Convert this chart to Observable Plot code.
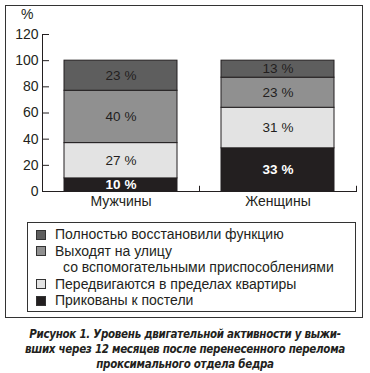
<!DOCTYPE html>
<html><head><meta charset="utf-8">
<script src="https://cdn.jsdelivr.net/npm/d3@7"></script>
<script src="https://cdn.jsdelivr.net/npm/@observablehq/plot@0.6"></script>
<style>
body{margin:0;background:#fff;font-family:"Liberation Sans",Arial,sans-serif;color:#231f20}
#frame{position:absolute;left:5px;top:5px;width:356px;height:311px;border:1.5px solid #333}
#chart{position:absolute;left:0;top:0}
#pct{position:absolute;left:21px;top:6px;font-size:14px}
#legend{position:absolute;left:27px;top:222px;width:329px;height:90px;border:1px solid #333;font-size:14px;line-height:16.5px;padding-top:3px;box-sizing:border-box}
.item{position:relative;padding-left:27px;white-space:nowrap}
.item .sw{position:absolute;left:8px;top:3.5px;width:8px;height:8px;border:1px solid #333}
.item .l2{padding-left:8px}
#caption{position:absolute;left:0;top:327px;width:370px;text-align:center;white-space:nowrap;font-family:"DejaVu Sans Condensed","Liberation Sans Narrow",sans-serif;font-weight:bold;font-style:italic;font-size:11.5px;letter-spacing:-0.3px;line-height:15px;color:#231f20}
</style></head>
<body>
<div id="frame"></div>
<div id="chart"></div>
<div id="pct">%</div>
<div id="legend"></div>
<div id="caption">Рисунок 1. Уровень двигательной активности у выжи-<br>вших через 12 месяцев после перенесенного перелома<br>проксимального отдела бедра</div>
<script>
const groups = ["Мужчины", "Женщины"];
// bottom to top
const categories = ["Прикованы к постели", "Передвигаются в пределах квартиры", "Выходят на улицу со вспомогательными приспособлениями", "Полностью восстановили функцию"];
const menValues = [10, 27, 40, 23];
const womenValues = [33, 31, 23, 13];
const colors = ["#231f20", "#e3e3e3", "#909090", "#5e5e5e"];
const yTicks = [0, 20, 40, 60, 80, 100, 120];

const data = [];
groups.forEach((g, gi) => {
  const vals = gi === 0 ? menValues : womenValues;
  categories.forEach((c, ci) => data.push({group: g, cat: c, ci, value: vals[ci]}));
});

const plot = Plot.plot({
  width: 370,
  height: 215,
  marginLeft: 42,
  marginRight: 14,
  marginTop: 34,
  marginBottom: 24,
  style: {fontFamily: "Liberation Sans, Arial, sans-serif", color: "#231f20", background: "transparent"},
  x: {domain: groups, padding: 0, label: null},
  y: {domain: [0, 120], label: null},
  color: {domain: categories, range: colors},
  marks: [
    Plot.barY(data, Plot.stackY({x: "group", y: "value", fill: "cat", stroke: "#231f20", strokeWidth: 1, insetLeft: 22, insetRight: 22})),
    Plot.text(data, Plot.stackY({x: "group", y: "value", text: d => d.ci > 0 ? d.value + " %" : "", fill: "#231f20", fontSize: 13.5})),
    Plot.text(data, Plot.stackY({x: "group", y: "value", text: d => d.ci === 0 ? d.value + " %" : "", fill: "#ffffff", fontSize: 13.5, fontWeight: "bold"})),
    Plot.axisY({ticks: yTicks, tickSize: 0, tickPadding: 4, fontSize: 14, label: null}),
    Plot.axisY({ticks: yTicks, tickSize: 7, dx: 7, tickFormat: () => "", label: null, stroke: "#231f20"}),
    Plot.axisX({tickSize: 0, tickPadding: 5, fontSize: 14, label: null}),
    Plot.ruleX(groups, {x: d => d, y1: 0, y2: 4, dx: 78.5, stroke: "#231f20"}),
    Plot.frame({anchor: "left", stroke: "#231f20"}),
    Plot.frame({anchor: "bottom", stroke: "#231f20"})
  ]
});
document.getElementById("chart").appendChild(plot);

// legend: top to bottom
const legend = document.getElementById("legend");
const legendOrder = [3, 2, 1, 0];
legendOrder.forEach(i => {
  const div = document.createElement("div");
  div.className = "item";
  const sw = document.createElement("span");
  sw.className = "sw";
  sw.style.background = colors[i];
  div.appendChild(sw);
  if (i === 2) {
    div.appendChild(document.createTextNode("Выходят на улицу"));
    div.appendChild(document.createElement("br"));
    const s = document.createElement("span");
    s.className = "l2";
    s.textContent = "со вспомогательными приспособлениями";
    div.appendChild(s);
  } else {
    div.appendChild(document.createTextNode(categories[i]));
  }
  legend.appendChild(div);
});
</script>
</body></html>
